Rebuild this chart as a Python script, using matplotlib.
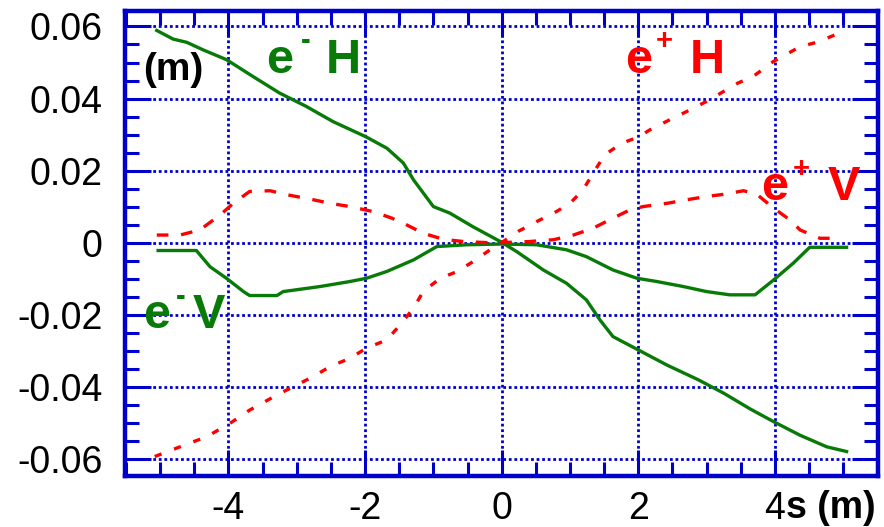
import numpy as np
import matplotlib
matplotlib.use("Agg")
from matplotlib import pyplot as plt
from matplotlib.ticker import MultipleLocator

plt.rcParams["font.family"] = ["Liberation Sans", "DejaVu Sans"]

# beam envelope vs s (m)
em_h_s = [-5.05, -4.81, -4.61, -4.37, -4.03, -3.64, -3.25, -2.86, -2.47, -1.99, -1.68, -1.44, -1.29,
          -1.0, -0.76, -0.42, -0.02, 0.22, 0.61, 0.95, 1.24, 1.44, 1.63, 2.0, 2.42, 2.88, 3.25, 3.64,
          3.98, 4.37, 4.76, 5.05]
em_h_y = [0.0589, 0.0565, 0.0556, 0.0535, 0.0508, 0.0461, 0.0415, 0.0378, 0.0336, 0.0294, 0.0262, 0.0221, 0.0174,
          0.0100, 0.0082, 0.0044, 0.0003, -0.0025, -0.0076, -0.0113, -0.0159, -0.0215, -0.0261, -0.0298, -0.034, -0.0381, -0.0418, -0.0462,
          -0.0497, -0.0535, -0.0567, -0.058]

ep_h_s = [-5.08, -4.71, -4.32, -3.98, -3.69, -3.29, -3.05, -2.76, -2.51, -2.22, -1.98, -1.68, -1.49, -1.29,
          -1.15, -0.9, -0.66, -0.42, -0.17, 0.0, 0.24, 0.51, 0.8, 1.0, 1.19, 1.34, 1.51, 1.76, 2.0, 2.17,
          2.46, 2.71, 3.0, 3.29, 3.46, 3.68, 3.98, 4.37, 4.61, 4.95]
ep_h_y = [-0.0594, -0.0567, -0.0539, -0.0502, -0.0465, -0.0423, -0.04, -0.0372, -0.0344, -0.0321, -0.0293, -0.027, -0.0229, -0.0182,
          -0.0136, -0.0099, -0.0081, -0.0053, -0.002, 0.0, 0.0031, 0.0058, 0.0086, 0.0109, 0.0146, 0.0193, 0.0244, 0.0276, 0.0293, 0.0313,
          0.0341, 0.0364, 0.0392, 0.0424, 0.0443, 0.0461, 0.0503, 0.0544, 0.0556, 0.0582]

ep_v_s = [-5.05, -4.71, -4.42, -4.12, -3.93, -3.69, -3.39, -3.15, -2.81, -2.51, -2.22, -1.88, -1.61, -1.42,
          -1.15, -0.85, -0.56, -0.22, 0.0, 0.41, 0.76, 1.05, 1.34, 1.63, 1.88, 2.07, 2.42, 2.71, 3.0,
          3.29, 3.54, 3.73, 3.98, 4.22, 4.37, 4.66, 4.95]
ep_v_y = [0.0021, 0.0021, 0.0035, 0.0077, 0.0109, 0.0142, 0.0144, 0.0133, 0.0121, 0.0109, 0.0100, 0.0086, 0.0068, 0.0052,
          0.0026, 0.0009, 0.0003, 0.0, 0.0, 0.0003, 0.0008, 0.0021, 0.004, 0.0068, 0.0091, 0.01, 0.0109, 0.0119, 0.0128,
          0.0135, 0.0144, 0.0135, 0.0096, 0.0063, 0.0035, 0.0012, 0.0012]

em_v_s = [-5.03, -4.47, -4.27, -4.03, -3.78, -3.69, -3.29, -3.2, -2.66, -2.22, -1.98, -1.68, -1.29, -0.95,
          -0.51, 0.0, 0.51, 0.95, 1.24, 1.63, 1.98, 2.27, 2.66, 3.0, 3.34, 3.71, 3.98, 4.27, 4.51, 5.05]
em_v_y = [-0.0022, -0.0022, -0.0067, -0.0099, -0.0136, -0.0147, -0.0147, -0.0136, -0.0122, -0.0108, -0.0099, -0.008, -0.0048, -0.0011,
          -0.0006, -0.0004, -0.0006, -0.002, -0.0039, -0.0076, -0.0099, -0.0108, -0.0122, -0.0136, -0.0145, -0.0145, -0.0104, -0.0057, -0.0013, -0.0013]

x_ticks = [-4, -2, 0, 2, 4]
x_labels = ["-4", "-2", "0", "2", "4"]
y_ticks = [-0.06, -0.04, -0.02, 0, 0.02, 0.04, 0.06]
y_labels = ["-0.06", "-0.04", "-0.02", "0", "0.02", "0.04", "0.06"]

W, H = 884, 527
blue = "#0000cc"
green = "#087a08"
red = "#ff0000"

fig = plt.figure(figsize=(W / 100, H / 100), dpi=100)
ax = fig.add_axes([125 / W, 1 - 476 / H, (878 - 125) / W, (476 - 11) / H])

ax.plot(em_h_s, em_h_y, color=green, lw=2.4, zorder=3)
ax.plot(em_v_s, em_v_y, color=green, lw=2.4, zorder=3)
ax.plot(ep_h_s, ep_h_y, color=red, lw=2.4, dashes=(2.2, 4.0), zorder=4)
ax.plot(ep_v_s, ep_v_y, color=red, lw=2.4, dashes=(3.5, 3.8), zorder=4)

ax.set_xlim(-5.515, 5.51)
ax.set_ylim(-0.0648, 0.0643)

ax.set_xticks(x_ticks)
ax.set_xticklabels(x_labels)
ax.set_yticks(y_ticks)
ax.set_yticklabels(y_labels)
ax.xaxis.set_minor_locator(MultipleLocator(0.5))
ax.yaxis.set_minor_locator(MultipleLocator(0.005))

ax.tick_params(which="both", direction="in", top=True, right=True, color=blue, labelsize=27)
ax.tick_params(which="major", length=19, width=2.2)
ax.tick_params(which="minor", length=10, width=2.2)
ax.tick_params(axis="x", pad=11)
ax.tick_params(axis="y", pad=16)

for sp in ax.spines.values():
    sp.set_color(blue)
    sp.set_linewidth(3.2)

ax.grid(True, which="major", color=blue, lw=2.0, linestyle=(0, (1, 1)), zorder=1)
ax.set_axisbelow(True)


def px(x, y):
    return x / W, 1 - y / H


# curve labels, placed in pixel coords
def label(x_e, x_sign, x_letter, base, sign_y, sign, letter, col):
    fig.text(*px(x_e, base), "e", color=col, fontsize=35, fontweight="bold", va="baseline")
    fig.text(*px(x_sign, sign_y), sign, color=col, fontsize=21, fontweight="bold", va="center")
    fig.text(*px(x_letter, base), letter, color=col, fontsize=35, fontweight="bold", va="baseline")


label(266, 301, 326, 73, 41, "-", "H", green)
label(625, 656, 690, 73, 41, "+", "H", red)
label(761, 793, 828, 200, 169, "+", "V", red)
label(143, 176, 193, 328, 297, "-", "V", green)

fig.text(*px(143, 80), "(m)", fontsize=28, fontweight="bold", va="baseline")
fig.text(*px(786, 518), "s (m)", fontsize=27, fontweight="bold", va="baseline")

fig.savefig("out.png", dpi=100)
